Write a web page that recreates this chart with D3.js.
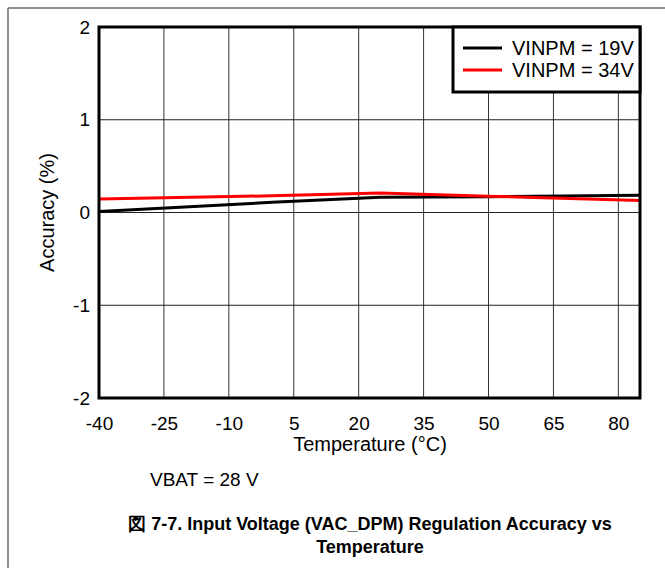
<!DOCTYPE html>
<html><head><meta charset="utf-8">
<script src="https://cdn.jsdelivr.net/npm/d3@7"></script>
<style>body{margin:0;background:#fff}svg{display:block}text{font-family:"Liberation Sans",Arial,sans-serif}</style>
</head><body>
<script>
const xTicks = [-40, -25, -10, 5, 20, 35, 50, 65, 80];
const yTicks = [-2, -1, 0, 1, 2];
const temps19 = [-40, 0, 25, 50, 85];
const acc19 = [0.01, 0.11, 0.165, 0.17, 0.185];
const temps34 = [-40, 0, 25, 50, 85];
const acc34 = [0.145, 0.18, 0.21, 0.175, 0.13];
const seriesNames = ["VINPM = 19V", "VINPM = 34V"];
const seriesColors = ["#000000", "#ff0000"];

const W = 665, H = 568;
const svg = d3.select("body").append("svg").attr("width", W).attr("height", H);
const L = 99, R = 640, T = 27, B = 398;
const x = d3.scaleLinear().domain([-40, 85]).range([L, R]);
const y = d3.scaleLinear().domain([-2, 2]).range([B, T]);
const FF = "Liberation Sans, Arial, sans-serif";

// outer frame
svg.append("line").attr("x1", 8).attr("x2", 8).attr("y1", 8).attr("y2", H).attr("stroke", "#6e6e6e").attr("stroke-width", 1.5);
svg.append("line").attr("x1", 8).attr("x2", W).attr("y1", 8).attr("y2", 8).attr("stroke", "#6e6e6e").attr("stroke-width", 1.5);

// grid
const g = svg.append("g");
g.selectAll(".vg").data(xTicks.slice(1)).join("line")
  .attr("x1", d => x(d)).attr("x2", d => x(d)).attr("y1", T).attr("y2", B)
  .attr("stroke", "#333").attr("stroke-width", 1);
g.selectAll(".hg").data(yTicks.slice(1, -1)).join("line")
  .attr("x1", L).attr("x2", R).attr("y1", d => y(d)).attr("y2", d => y(d))
  .attr("stroke", "#222").attr("stroke-width", 1);

// axes labels via d3 axes
const xAxis = svg.append("g").attr("transform", `translate(0,${B})`)
  .call(d3.axisBottom(x).tickValues(xTicks).tickFormat(d => String(d)).tickSize(0).tickPadding(19));
xAxis.select(".domain").remove();
xAxis.selectAll("text").attr("font-size", 19).attr("fill", "#000").attr("font-family", FF);
const yAxis = svg.append("g").attr("transform", `translate(${L},0)`)
  .call(d3.axisLeft(y).tickValues(yTicks).tickFormat(d => String(d)).tickSize(0).tickPadding(9));
yAxis.select(".domain").remove();
yAxis.selectAll("text").attr("font-size", 19).attr("fill", "#000").attr("font-family", FF);

// lines
const line = d3.line().x(d => x(d[0])).y(d => y(d[1]));
const data = [d3.zip(temps19, acc19), d3.zip(temps34, acc34)];
svg.append("defs").append("clipPath").attr("id", "c").append("rect").attr("x", L).attr("y", T).attr("width", R - L).attr("height", B - T);
data.forEach((d, i) => {
  svg.append("path").datum(d).attr("d", line).attr("fill", "none")
    .attr("stroke", seriesColors[i]).attr("stroke-width", 3).attr("clip-path", "url(#c)");
});

// plot border
svg.append("rect").attr("x", L).attr("y", T).attr("width", R - L).attr("height", B - T)
  .attr("fill", "none").attr("stroke", "#000").attr("stroke-width", 3);

// legend
const lg = svg.append("g");
lg.append("rect").attr("x", 453).attr("y", 27).attr("width", R - 453).attr("height", 65)
  .attr("fill", "#fff").attr("stroke", "#000").attr("stroke-width", 3);
seriesNames.forEach((n, i) => {
  const yy = 48 + i * 22;
  lg.append("line").attr("x1", 463).attr("x2", 502).attr("y1", yy).attr("y2", yy)
    .attr("stroke", seriesColors[i]).attr("stroke-width", 3);
  lg.append("text").attr("x", 512).attr("y", yy + 7).attr("font-size", 20).text(n);
});

// axis titles
svg.append("text").attr("x", 370).attr("y", 451).attr("text-anchor", "middle").attr("font-size", 20).text("Temperature (°C)");
svg.append("text").attr("transform", `translate(54,${y(0)}) rotate(-90)`).attr("text-anchor", "middle").attr("font-size", 20).text("Accuracy (%)");

svg.append("text").attr("x", 150).attr("y", 486).attr("font-size", 19).text("VBAT = 28 V");
svg.append("text").attr("x", 370).attr("y", 530).attr("text-anchor", "middle").attr("font-size", 18).attr("font-weight", "bold").text("図 7-7. Input Voltage (VAC_DPM) Regulation Accuracy vs");
svg.append("text").attr("x", 370).attr("y", 553).attr("text-anchor", "middle").attr("font-size", 18).attr("font-weight", "bold").text("Temperature");
</script>
</body></html>
